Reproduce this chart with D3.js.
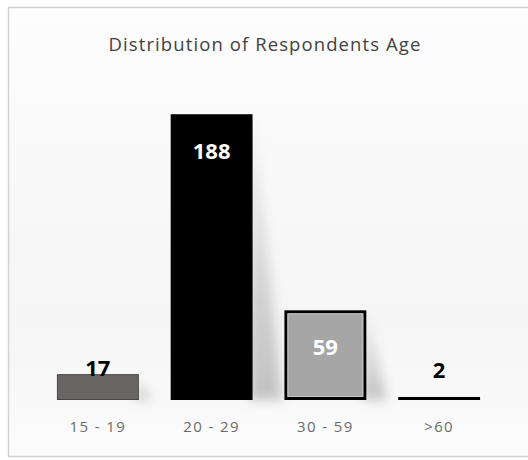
<!DOCTYPE html>
<html>
<head>
<meta charset="utf-8">
<script src="https://cdn.jsdelivr.net/npm/d3@7"></script>
<style>
  html, body { margin: 0; padding: 0; background: #ffffff; }
  svg { display: block; }
</style>
</head>
<body>
<svg id="chart" width="528" height="460"></svg>
<script>
// Respondent counts per age group
const categories = ["15 - 19", "20 - 29", "30 - 59", ">60"];
const counts = [17, 188, 59, 2];
const chartTitle = "Distribution of Respondents Age";

const barFill = ["#6b6565", "#000000", "#a6a6a6", "#000000"];
const barStroke = ["#4a4545", "#000000", "#000000", "#000000"];
const barStrokeWidth = [1, 0, 3, 0];
const labelFill = ["#000000", "#ffffff", "#ffffff", "#000000"];
const labelInside = [false, true, true, false];

const W = 528, H = 460;
const svg = d3.select("#chart");
const defs = svg.append("defs");

// soft page background
const bg = defs.append("linearGradient").attr("id", "bg").attr("x1", 0).attr("y1", 0).attr("x2", 0).attr("y2", 1);
bg.append("stop").attr("offset", "0%").attr("stop-color", "#fdfdfd");
bg.append("stop").attr("offset", "70%").attr("stop-color", "#f5f5f5");
bg.append("stop").attr("offset", "100%").attr("stop-color", "#fcfcfc");

const shadowGrad = defs.append("linearGradient").attr("id", "sh").attr("x1", 0).attr("y1", 0).attr("x2", 0).attr("y2", 1);
shadowGrad.append("stop").attr("offset", "0%").attr("stop-color", "#000").attr("stop-opacity", 0.02);
shadowGrad.append("stop").attr("offset", "100%").attr("stop-color", "#000").attr("stop-opacity", 0.22);

defs.append("filter").attr("id", "blur").attr("x", "-50%").attr("y", "-50%").attr("width", "200%").attr("height", "200%")
  .append("feGaussianBlur").attr("stdDeviation", 6);

defs.append("filter").attr("id", "soft").append("feGaussianBlur").attr("stdDeviation", 0.5);

svg.append("rect").attr("x", 0).attr("y", 0).attr("width", W).attr("height", H).attr("fill", "#ffffff");
svg.append("rect")
  .attr("x", 8.5).attr("y", 7.5).attr("width", W).attr("height", 449)
  .attr("fill", "url(#bg)").attr("stroke", "#d2d2d2").attr("stroke-width", 1.5);

const x = d3.scaleBand().domain(categories).range([41, 496]).paddingInner(0.28).paddingOuter(0.14);
const y = d3.scaleLinear().domain([0, 200]).range([400, 96]);

svg.append("text")
  .attr("x", 265).attr("y", 51)
  .attr("text-anchor", "middle")
  .attr("font-family", "'Open Sans', sans-serif")
  .attr("font-size", 18.5)
  .attr("letter-spacing", 1.1)
  .attr("fill", "#424242")
  .text(chartTitle);

const data = categories.map((c, i) => ({ c, v: counts[i], i }));

// slanted soft shadows cast to the right of each bar
svg.append("g").attr("filter", "url(#blur)")
  .selectAll("path").data(data.filter(d => d.v > 5)).join("path")
  .attr("d", d => {
    const x1 = x(d.c) + x.bandwidth();
    const top = y(d.v), base = y(0);
    const spread = Math.min(30, (base - top) * 0.12 + 10);
    return `M${x1 - 4},${top + 6} L${x1 + 2},${top + 6} L${x1 + spread},${base} L${x1 - 4},${base} Z`;
  })
  .attr("fill", "url(#sh)");

const bars = svg.append("g").attr("filter", "url(#soft)");
bars.selectAll("rect").data(data).join("rect")
  .attr("x", d => x(d.c) + barStrokeWidth[d.i] / 2)
  .attr("y", d => y(d.v) + barStrokeWidth[d.i] / 2)
  .attr("width", d => x.bandwidth() - barStrokeWidth[d.i])
  .attr("height", d => Math.max(0, y(0) - y(d.v) - barStrokeWidth[d.i]))
  .attr("fill", d => barFill[d.i])
  .attr("stroke", d => barStrokeWidth[d.i] ? barStroke[d.i] : "none")
  .attr("stroke-width", d => barStrokeWidth[d.i]);

// light inner edge on the outlined bar
bars.selectAll("rect.inner").data(data.filter(d => barStrokeWidth[d.i] >= 3)).join("rect")
  .attr("class", "inner")
  .attr("x", d => x(d.c) + 3.5)
  .attr("y", d => y(d.v) + 3.5)
  .attr("width", d => x.bandwidth() - 7)
  .attr("height", d => y(0) - y(d.v) - 7)
  .attr("fill", "none").attr("stroke", "#c8c8c8").attr("stroke-width", 1);

// value labels: inside near the top for tall bars, otherwise above, kept clear of the baseline
svg.append("g").selectAll("text").data(data).join("text")
  .attr("x", d => x(d.c) + x.bandwidth() / 2)
  .attr("y", d => labelInside[d.i] ? y(d.v) + 45 : Math.min(y(d.v) + 1.5, y(0) - 22))
  .attr("text-anchor", "middle")
  .attr("font-family", "'Open Sans', sans-serif")
  .attr("font-weight", 700)
  .attr("font-size", 22)
  .attr("fill", d => labelFill[d.i])
  .text(d => d.v);

// category axis
const axis = svg.append("g").attr("transform", `translate(0,${y(0)})`)
  .call(d3.axisBottom(x).tickSize(0).tickPadding(21));
axis.select(".domain").remove();
axis.selectAll("text")
  .attr("font-family", "'Open Sans', sans-serif")
  .attr("font-size", 15)
  .attr("letter-spacing", 1.4)
  .attr("fill", "#6a6a6a");
</script>
</body>
</html>
